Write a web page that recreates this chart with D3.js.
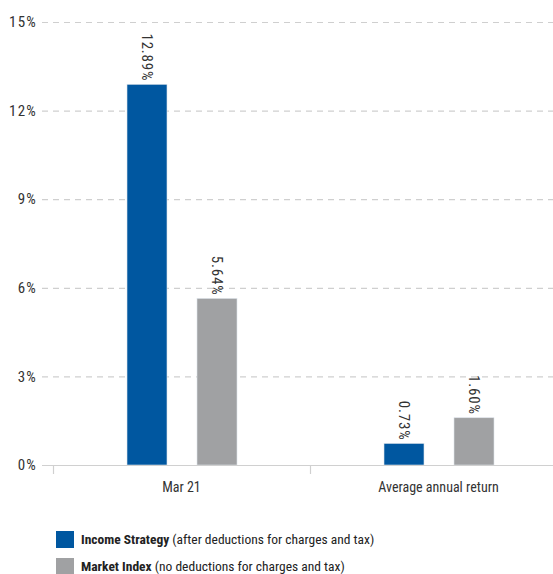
<!DOCTYPE html>
<html><head><meta charset="utf-8">
<script src="https://cdn.jsdelivr.net/npm/d3@7"></script>
<style>
body{margin:0;background:#fff;}
text{font-family:"Roboto Condensed","Liberation Sans Narrow",sans-serif;}
</style></head><body>
<svg id="c" width="553" height="574"></svg>
<script>
const categories = ["Mar 21", "Average annual return"];
const seriesNames = ["Income Strategy", "Market Index"];
const seriesNotes = [" (after deductions for charges and tax)", " (no deductions for charges and tax)"];
const incomeStrategy = [12.89, 0.73];
const marketIndex = [5.64, 1.60];
const yTicks = [0, 3, 6, 9, 12, 15];
const colors = ["#0057A0", "#A0A1A3"];

const svg = d3.select("#c");
const y = d3.scaleLinear().domain([0, 15]).range([465, 22]);
const x = d3.scaleBand().domain(categories).range([53, 567]);
const xs = d3.scaleBand().domain(seriesNames).range([74, 184]).paddingInner(0.4286);

// grid
svg.append("g").selectAll("line").data(yTicks.filter(d => d > 0)).join("line")
  .attr("x1", 42).attr("x2", 553).attr("y1", d => y(d) + 0.5).attr("y2", d => y(d) + 0.5)
  .attr("stroke", "#cfcfcf").attr("stroke-width", 1.2).attr("stroke-dasharray", "6,5");

// y labels
svg.append("g").selectAll("text").data(yTicks).join("text")
  .attr("x", 37).attr("y", d => y(d)).attr("dy", "0.35em").attr("text-anchor", "end")
  .attr("font-size", 15).attr("letter-spacing", 1.2).attr("fill", "#333").text(d => d + "%");

// bars
const data = [];
categories.forEach((c, i) => {
  data.push({c, s: seriesNames[0], v: incomeStrategy[i], col: colors[0]});
  data.push({c, s: seriesNames[1], v: marketIndex[i], col: colors[1]});
});
svg.append("g").selectAll("rect").data(data).join("rect")
  .attr("x", d => x(d.c) + xs(d.s)).attr("width", xs.bandwidth())
  .attr("y", d => y(d.v)).attr("height", d => y(0) - y(d.v))
  .attr("fill", d => d.col).attr("stroke", "#dde3ea").attr("stroke-width", 0.6);

// value labels (rotated)
svg.append("g").selectAll("text").data(data).join("text")
  .attr("transform", d => `translate(${x(d.c) + xs(d.s) + xs.bandwidth()/2},${y(d.v) - 3}) rotate(90)`)
  .attr("text-anchor", "end").attr("dy", "0.35em")
  .attr("font-size", 15).attr("letter-spacing", 0.8).attr("fill", "#333").text(d => d.v.toFixed(2) + "%");

// x axis
const ax = svg.append("g");
ax.append("line").attr("x1", 42).attr("x2", 553).attr("y1", 465.5).attr("y2", 465.5)
  .attr("stroke", "#d0d0d0").attr("stroke-width", 1.2);
ax.selectAll("line.t").data([x.range()[0], x.range()[0] + x.step(), x.range()[1]]).join("line").attr("class", "t")
  .attr("x1", d => d + 0.5).attr("x2", d => d + 0.5).attr("y1", 465).attr("y2", 474)
  .attr("stroke", "#d0d0d0").attr("stroke-width", 1.2);
ax.selectAll("text").data(categories).join("text")
  .attr("x", d => x(d) + x.bandwidth()/2).attr("y", 492).attr("text-anchor", "middle")
  .attr("font-size", 14).attr("fill", "#333").text(d => d);

// legend
const lg = svg.append("g").selectAll("g").data(seriesNames).join("g")
  .attr("transform", (d, i) => `translate(56,${531 + i * 27})`);
lg.append("rect").attr("width", 18).attr("height", 17).attr("fill", (d, i) => colors[i]);
const lt = lg.append("text").attr("x", 25).attr("y", 13).attr("font-size", 13.5).attr("fill", "#222");
lt.append("tspan").attr("font-weight", "bold").text(d => d);
lt.append("tspan").text((d, i) => seriesNotes[i]);
</script></body></html>
